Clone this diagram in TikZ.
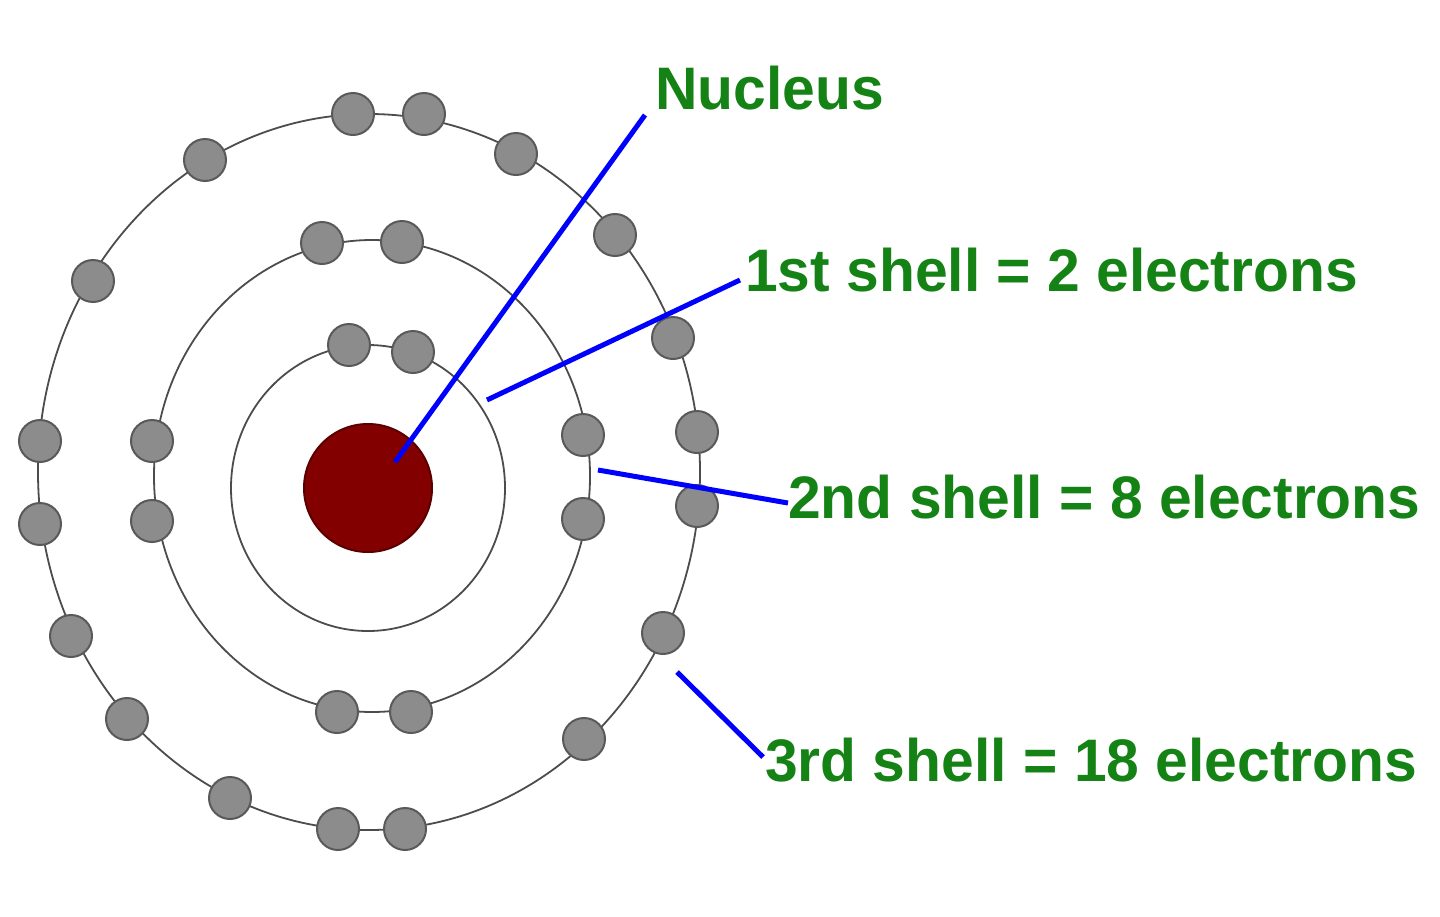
\documentclass[tikz,border=0pt]{standalone}
\usepackage{fontspec}
\setmainfont{Liberation Sans}
\definecolor{lbl}{RGB}{20,130,20}
\definecolor{eg}{RGB}{140,140,140}
\definecolor{nuc}{RGB}{130,0,0}
\begin{document}
\begin{tikzpicture}[x=1pt,y=-1pt,
  shell/.style={draw=black!70,line width=1.8pt},
  el/.style={circle,draw=black!65,fill=eg,line width=2pt,minimum size=42pt,inner sep=0pt},
  lab/.style={text=lbl,font=\bfseries\fontsize{60}{60}\selectfont,anchor=west,inner sep=0pt,xscale=0.98},
  lead/.style={draw=blue,line width=5pt}]
\useasboundingbox (0,0) rectangle (1440,916);
\draw[shell] (368,488) ellipse [x radius=137,y radius=143];
\draw[shell] (372,476) ellipse [x radius=218,y radius=236];
\draw[shell] (369,472) ellipse [x radius=331,y radius=358];
\node[circle,fill=nuc,draw=nuc!70!black,line width=2pt,minimum size=128pt,inner sep=0pt] (n) at (368,488) {};
\foreach \x/\y [count=\i] in {349/345,413/352,
 322/243,402/242,152/441,152/521,583/435,583/519,337/712,411/712,
 353/114,424/114,205/160,516/154,93/281,615/235,673/338,40/441,40/524,697/432,697/506,71/636,663/633,127/719,584/739,230/798,338/829,405/829}
 \node[el] (e\i) at (\x,\y) {};
\node[lab] (t0) at (655,88) {Nucleus};
\node[lab] (t1) at (745,270) {1st shell = 2 electrons};
\node[lab] (t2) at (788,497) {2nd shell = 8 electrons};
\node[lab] (t3) at (765,760) {3rd shell = 18 electrons};
\coordinate (a0) at (645,115); \coordinate (b0) at (395,462);
\coordinate (a1) at (740,280); \coordinate (b1) at (487,400);
\coordinate (a2) at (788,503); \coordinate (b2) at (598,470);
\coordinate (a3) at (763,757); \coordinate (b3) at (677,672);
\draw[lead] (a0)--(b0); \draw[lead] (a1)--(b1); \draw[lead] (a2)--(b2); \draw[lead] (a3)--(b3);
\end{tikzpicture}
\end{document}
